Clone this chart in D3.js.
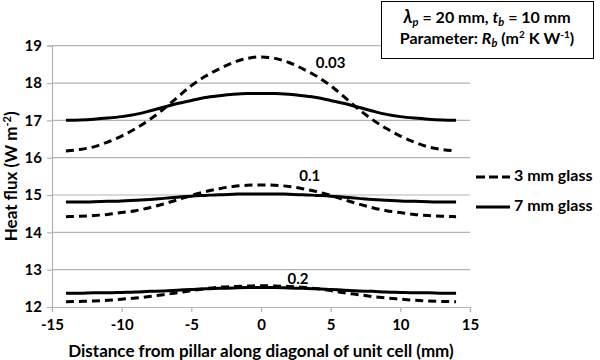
<!DOCTYPE html>
<html>
<head>
<meta charset="utf-8">
<script src="https://cdn.jsdelivr.net/npm/d3@7"></script>
<style>
  html, body { margin: 0; padding: 0; background: #fff; }
  svg { display: block; }
  text { font-family: Lato, "Open Sans", sans-serif; font-weight: bold; fill: #000; }
</style>
</head>
<body>
<svg id="chart" width="600" height="360"></svg>
<script>
// ---- Data ----
const xValues = [-14,-13,-12,-11,-10,-9,-8,-7,-6,-5,-4,-3,-2,-1,0,1,2,3,4,5,6,7,8,9,10,11,12,13,14];

const glass3_Rb003 = [16.18,16.22,16.29,16.42,16.58,16.78,17.02,17.30,17.62,17.93,18.18,18.38,18.55,18.66,18.70,
                      18.66,18.55,18.38,18.18,17.93,17.62,17.30,17.02,16.78,16.58,16.42,16.29,16.22,16.18];
const glass7_Rb003 = [17.00,17.01,17.03,17.06,17.10,17.16,17.25,17.35,17.45,17.53,17.61,17.66,17.70,17.72,17.72,
                      17.72,17.70,17.66,17.61,17.53,17.45,17.35,17.25,17.16,17.10,17.06,17.03,17.01,17.00];
const glass3_Rb01  = [14.42,14.43,14.45,14.48,14.53,14.58,14.66,14.76,14.87,14.99,15.09,15.17,15.23,15.26,15.27,
                      15.26,15.23,15.17,15.09,14.99,14.87,14.76,14.66,14.58,14.53,14.48,14.45,14.43,14.42];
const glass7_Rb01  = [14.81,14.81,14.82,14.83,14.84,14.86,14.88,14.91,14.94,14.97,14.99,15.01,15.02,15.03,15.03,
                      15.03,15.02,15.01,14.99,14.97,14.94,14.91,14.88,14.86,14.84,14.83,14.82,14.81,14.81];
const glass3_Rb02  = [12.14,12.15,12.16,12.18,12.21,12.24,12.28,12.33,12.38,12.44,12.49,12.53,12.55,12.56,12.57,
                      12.56,12.55,12.53,12.49,12.44,12.38,12.33,12.28,12.24,12.21,12.18,12.16,12.15,12.14];
const glass7_Rb02  = [12.37,12.37,12.38,12.38,12.39,12.40,12.42,12.43,12.45,12.47,12.49,12.50,12.51,12.52,12.52,
                      12.52,12.51,12.50,12.49,12.47,12.45,12.43,12.42,12.40,12.39,12.38,12.38,12.37,12.37];

const xTicks = [-15,-10,-5,0,5,10,15];
const yTicks = [12,13,14,15,16,17,18,19];
const curveLabels = ["0.03","0.1","0.2"];
const curveLabelPos = [[5.0, 18.5],[3.5, 15.47],[2.65, 12.72]];
const legendLabels = ["3 mm glass","7 mm glass"];

// ---- Chart ----
const svg = d3.select("#chart");
const x = d3.scaleLinear().domain([-15, 15]).range([52, 470]);
const y = d3.scaleLinear().domain([12, 19]).range([307, 45.7]);
const gridColor = "#b3b3b3";
const fmt = d => String(d); // hyphen-minus as in reference

// gridlines
svg.append("g").selectAll("line").data(yTicks.filter(d => d > 12)).join("line")
  .attr("x1", x(-15)).attr("x2", x(15))
  .attr("y1", d => y(d)).attr("y2", d => y(d))
  .attr("stroke", gridColor).attr("stroke-width", 1.2);

// y axis
const yAxis = svg.append("g").attr("transform", `translate(${x(-15)},0)`)
  .call(d3.axisLeft(y).tickValues(yTicks).tickSize(5).tickPadding(5).tickFormat(fmt));
yAxis.select(".domain").attr("stroke", gridColor).attr("stroke-width", 1.2);
yAxis.selectAll(".tick line").attr("stroke", gridColor).attr("stroke-width", 1.2);
yAxis.selectAll(".tick text").style("font-size", "15px").style("font-family", "Lato, sans-serif").style("font-weight", "bold").attr("fill", "#000");

// x axis
const xAxis = svg.append("g").attr("transform", `translate(0,${y(12)})`)
  .call(d3.axisBottom(x).tickValues(xTicks).tickSize(5).tickPadding(7).tickFormat(fmt));
xAxis.select(".domain").attr("stroke", gridColor).attr("stroke-width", 1.2);
xAxis.selectAll(".tick line").attr("stroke", gridColor).attr("stroke-width", 1.2);
xAxis.selectAll(".tick text").style("font-size", "15px").style("font-family", "Lato, sans-serif").style("font-weight", "bold").attr("fill", "#000");

// lines
const line = d3.line().x((d, i) => x(xValues[i])).y(d => y(d)).curve(d3.curveMonotoneX);
const series = [
  {v: glass3_Rb003, dash: true}, {v: glass7_Rb003, dash: false},
  {v: glass3_Rb01, dash: true},  {v: glass7_Rb01, dash: false},
  {v: glass3_Rb02, dash: true},  {v: glass7_Rb02, dash: false}
];
svg.append("g").selectAll("path").data(series).join("path")
  .attr("d", d => line(d.v))
  .attr("fill", "none").attr("stroke", "#000").attr("stroke-width", 3)
  .attr("stroke-dasharray", d => d.dash ? "8,5" : null);

// curve labels
svg.append("g").selectAll("text").data(curveLabels).join("text")
  .attr("x", (d, i) => x(curveLabelPos[i][0]))
  .attr("y", (d, i) => y(curveLabelPos[i][1]))
  .attr("text-anchor", "middle").attr("dominant-baseline", "middle")
  .style("font-size", "15px").text(d => d);

// axis titles
svg.append("text").attr("x", x(0)).attr("y", 357).attr("text-anchor", "middle")
  .style("font-size", "17px").text("Distance from pillar along diagonal of unit cell (mm)");

const yt = svg.append("text").attr("transform", `translate(17,${y(15.5)}) rotate(-90)`)
  .attr("text-anchor", "middle").style("font-size", "17px");
yt.append("tspan").text("Heat flux (W m");
yt.append("tspan").attr("dy", -6).style("font-size", "11px").text("-2");
yt.append("tspan").attr("dy", 6).text(")");

// legend
const lg = svg.append("g");
legendLabels.forEach((lab, i) => {
  const ly = 177 + i * 30;
  lg.append("line").attr("x1", 476).attr("x2", 510).attr("y1", ly).attr("y2", ly)
    .attr("stroke", "#000").attr("stroke-width", 3)
    .attr("stroke-dasharray", i === 0 ? "9,4" : null);
  lg.append("text").attr("x", 514).attr("y", ly).attr("dominant-baseline", "middle")
    .style("font-size", "16px").text(lab);
});

// parameter box
svg.append("rect").attr("x", 381.5).attr("y", 1.5).attr("width", 212).attr("height", 57)
  .attr("fill", "#fff").attr("stroke", "#000").attr("stroke-width", 1);
const t1 = svg.append("text").attr("x", 487).attr("y", 23).attr("text-anchor", "middle").style("font-size", "16px");
t1.append("tspan").style("font-style", "italic").style("font-size", "18px").text("λ");
t1.append("tspan").style("font-style", "italic").style("font-size", "11px").attr("dy", 3).text("p");
t1.append("tspan").attr("dy", -3).text(" = 20 mm, ");
t1.append("tspan").style("font-style", "italic").text("t");
t1.append("tspan").style("font-style", "italic").style("font-size", "11px").attr("dy", 3).text("b");
t1.append("tspan").attr("dy", -3).text(" = 10 mm");

const t2 = svg.append("text").attr("x", 487).attr("y", 44).attr("text-anchor", "middle").style("font-size", "16px");
t2.append("tspan").text("Parameter: ");
t2.append("tspan").style("font-style", "italic").text("R");
t2.append("tspan").style("font-style", "italic").style("font-size", "11px").attr("dy", 3).text("b");
t2.append("tspan").attr("dy", -3).text(" (m");
t2.append("tspan").style("font-size", "10px").attr("dy", -6).text("2");
t2.append("tspan").attr("dy", 6).text(" K W");
t2.append("tspan").style("font-size", "10px").attr("dy", -6).text("-1");
t2.append("tspan").attr("dy", 6).text(")");
</script>
</body>
</html>
